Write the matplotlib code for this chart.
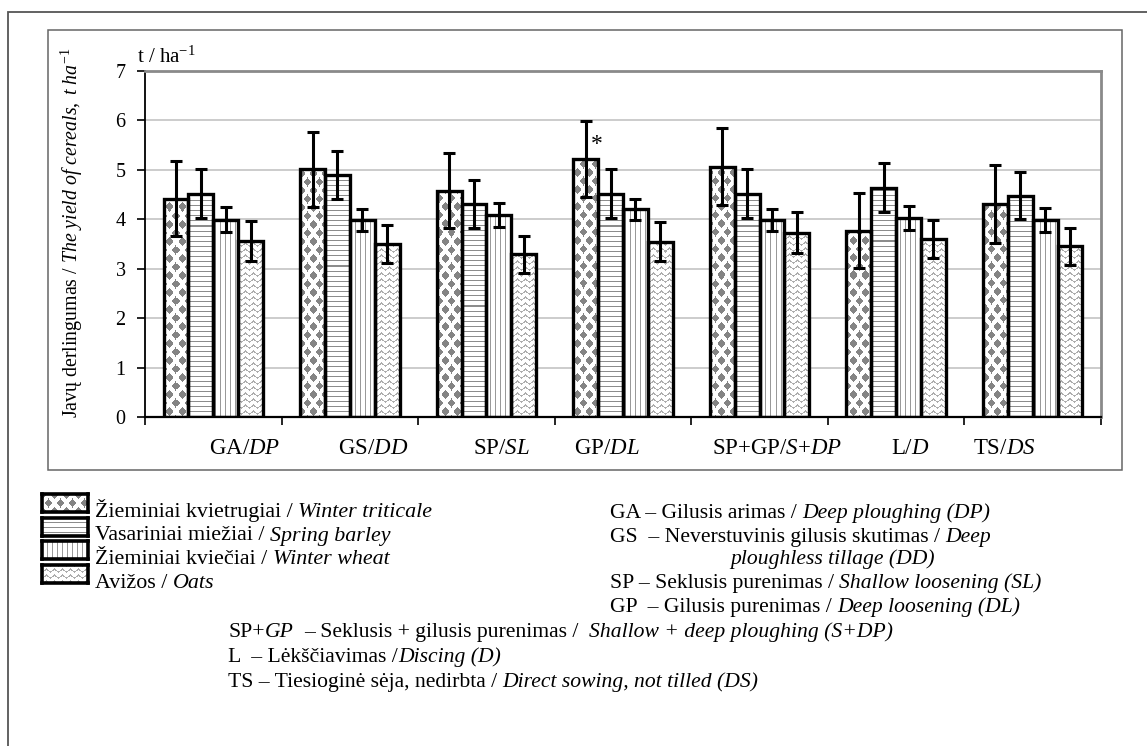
import numpy as np
import matplotlib
matplotlib.use('Agg')
import matplotlib.pyplot as plt
from matplotlib.patches import Rectangle
from matplotlib.transforms import IdentityTransform

plt.rcParams['font.family'] = 'Liberation Serif'
plt.rcParams['mathtext.fontset'] = 'custom'
plt.rcParams['mathtext.rm'] = 'Liberation Serif'
plt.rcParams['mathtext.it'] = 'Liberation Serif:italic'

# tillage methods (x categories)
methods = ['GA', 'GS', 'SP', 'GP', 'SP+GP', 'L', 'TS']
methods_en = ['DP', 'DD', 'SL', 'DL', 'S+DP', 'D', 'DS']
label_shift = [0.23, 0.17, 0.11, -0.12, 0.13, 0.10, -0.21]

crops = ['Žieminiai kvietrugiai', 'Vasariniai miežiai', 'Žieminiai kviečiai', 'Avižos']
crops_en = ['Winter triticale', 'Spring barley', 'Winter wheat', 'Oats']

# yield t/ha
triticale = [4.42, 5.01, 4.58, 5.22, 5.06, 3.77, 4.31]
barley = [4.52, 4.90, 4.31, 4.52, 4.52, 4.64, 4.48]
wheat = [3.99, 3.99, 4.09, 4.20, 3.99, 4.03, 3.99]
oats = [3.56, 3.50, 3.29, 3.55, 3.73, 3.60, 3.45]

triticale_err = [0.76, 0.76, 0.76, 0.76, 0.78, 0.76, 0.78]
barley_err = [0.49, 0.49, 0.49, 0.49, 0.49, 0.49, 0.48]
wheat_err = [0.25, 0.22, 0.24, 0.22, 0.22, 0.24, 0.24]
oats_err = [0.40, 0.38, 0.38, 0.40, 0.41, 0.39, 0.38]

W, H = 1147, 746


def px(x, y):
    return x / W, 1 - y / H


def it(s):
    # italic part as mathtext, '+' kept outside math
    return '+'.join('$\\mathit{' + p.replace(' ', '\\ ') + '}$' for p in s.split('+'))


def texture(kind, h, w):
    yy, xx = np.mgrid[0:h, 0:w].astype(float)
    img = np.ones((h, w, 3))
    if kind == 'diamond':
        a, b = 12.0, 8.5
        hw, hh = 3.9, 4.6
        d1 = np.abs((xx % a) - a / 2) / hw + np.abs((yy % (2 * b)) - b) / hh
        d2 = np.abs(((xx + a / 2) % a) - a / 2) / hw + np.abs(((yy + b) % (2 * b)) - b) / hh
        img[np.minimum(d1, d2) < 1] = 0.52
    elif kind == 'hline':
        img[(yy % 5) < 1] = 0.55
    elif kind == 'vline':
        img[(xx % 5) < 1] = 0.6
    else:
        t = xx / 8.0
        tri = 2 * np.abs(t - np.floor(t + 0.5))
        img[((yy + 3 * tri) % 6) < 1.5] = 0.68
    return img


fig = plt.figure(figsize=(W / 100, H / 100), dpi=100)
renderer = fig.canvas.get_renderer()


def space_width(size):
    a = fig.text(0, 0, 'x x', fontsize=size)
    b = fig.text(0, 0, 'xx', fontsize=size)
    w = a.get_window_extent(renderer).width - b.get_window_extent(renderer).width
    a.remove()
    b.remove()
    return w


def write(x, y, parts, size):
    # one line of upright / italic pieces, x and y in pixels from top-left
    sp = space_width(size)
    cur = x
    for s, ital in parts:
        cur += (len(s) - len(s.lstrip(' '))) * sp
        t = fig.text(cur, H - y, s.strip(), fontsize=size, va='baseline', ha='left',
                     fontstyle='italic' if ital else 'normal', transform=IdentityTransform())
        cur = t.get_window_extent(renderer).x1 + (len(s) - len(s.rstrip(' '))) * sp


# frames
fig.patches.append(Rectangle(px(8, 760), 1.2, (760 - 12) / H, transform=fig.transFigure,
                             fill=False, ec='#555555', lw=1.3))
fig.patches.append(Rectangle(px(48, 470), (1122 - 48) / W, (470 - 30) / H, transform=fig.transFigure,
                             fill=False, ec='#666666', lw=1.1))

x0, y0 = px(145, 417)
ax = fig.add_axes([x0, y0, (1101 - 145) / W, (417 - 71) / H])

series = [triticale, barley, wheat, oats]
errors = [triticale_err, barley_err, wheat_err, oats_err]
kinds = ['diamond', 'hline', 'vline', 'wave']
x = np.arange(len(methods))
bw = 0.182

aw, ah = int(round(ax.bbox.width)), int(round(ax.bbox.height))
for i, (vals, errs, kind) in enumerate(zip(series, errors, kinds)):
    pos = x + (i - 1.5) * bw
    bars = ax.bar(pos, vals, bw, facecolor='none', edgecolor='black', linewidth=2.4, zorder=3)
    tex = texture(kind, ah, aw)
    for b in bars:
        im = ax.imshow(tex, extent=(-0.5, 6.5, 0, 7), aspect='auto',
                       interpolation='nearest', zorder=2)
        im.set_clip_path(b)
    ax.errorbar(pos, vals, yerr=errs, fmt='none', ecolor='black', elinewidth=2.2,
                capsize=4, capthick=2.2, zorder=4)

ax.text(3 - 1.5 * bw + 0.08, triticale[3] + 0.3, '*', fontsize=17, ha='center', va='center')

ax.set_xlim(-0.5, 6.5)
ax.set_ylim(0, 7)
ax.set_yticks(range(8))
ax.tick_params(axis='y', labelsize=14.5, length=6, width=1.2, pad=8)
ax.set_xticks(np.arange(-0.5, 7, 1))
ax.set_xticklabels([])
ax.tick_params(axis='x', length=6, width=1.2)
ax.yaxis.grid(True, color='#c4c4c4', lw=1.2)
ax.set_axisbelow(True)
for s in ['top', 'right']:
    ax.spines[s].set_color('#8a8a8a')
    ax.spines[s].set_linewidth(2)
ax.spines['left'].set_linewidth(1.3)
ax.spines['bottom'].set_linewidth(1.6)

for i, (m, e) in enumerate(zip(methods, methods_en)):
    ax.text(i + label_shift[i], -0.09, m + '/' + it(e), fontsize=16.5, ha='center', va='center',
            transform=ax.get_xaxis_transform())

fig.text(*px(137, 57), 't / $\\mathrm{ha}^{-1}$', fontsize=15, va='center', ha='left')
fig.text(*px(72, 233), 'Javų derlingumas / ' + '$\\mathit{The\\ yield\\ of\\ cereals,\\ t\\ ha}^{-1}$',
         fontsize=14.3, rotation=90, ha='center', va='center')

# legend with pattern boxes
box_top = [494, 517.5, 541, 564.5]
for i in range(4):
    lx, ly = px(42, box_top[i] + 18)
    la = fig.add_axes([lx, ly, 46 / W, 18 / H])
    la.imshow(texture(kinds[i], 18, 46), aspect='auto', interpolation='nearest')
    la.set_xticks([])
    la.set_yticks([])
    for s in la.spines.values():
        s.set_linewidth(2.6)
    write(95, box_top[i] + 23, [(crops[i] + ' / ', False), (crops_en[i], True)], 15.8)

notes = [
    (610, 518, [('GA – Gilusis arimas / ', False), ('Deep ploughing (DP)', True)]),
    (610, 542, [('GS  – Neverstuvinis gilusis skutimas / ', False), ('Deep', True)]),
    (730, 564, [('ploughless tillage (DD)', True)]),
    (610, 588, [('SP – Seklusis purenimas / ', False), ('Shallow loosening (SL)', True)]),
    (610, 612, [('GP  – Gilusis purenimas / ', False), ('Deep loosening (DL)', True)]),
    (228, 637, [('SP+', False), ('GP', True), ('  – Seklusis + gilusis purenimas /  ', False),
                ('Shallow + deep ploughing (S+DP)', True)]),
    (228, 662, [('L  – Lėkščiavimas /', False), ('Discing (D)', True)]),
    (228, 687, [('TS – Tiesioginė sėja, nedirbta / ', False), ('Direct sowing, not tilled (DS)', True)]),
]
for nx, ny, parts in notes:
    write(nx, ny, parts, 15.6)

fig.savefig('out.png', dpi=100)
